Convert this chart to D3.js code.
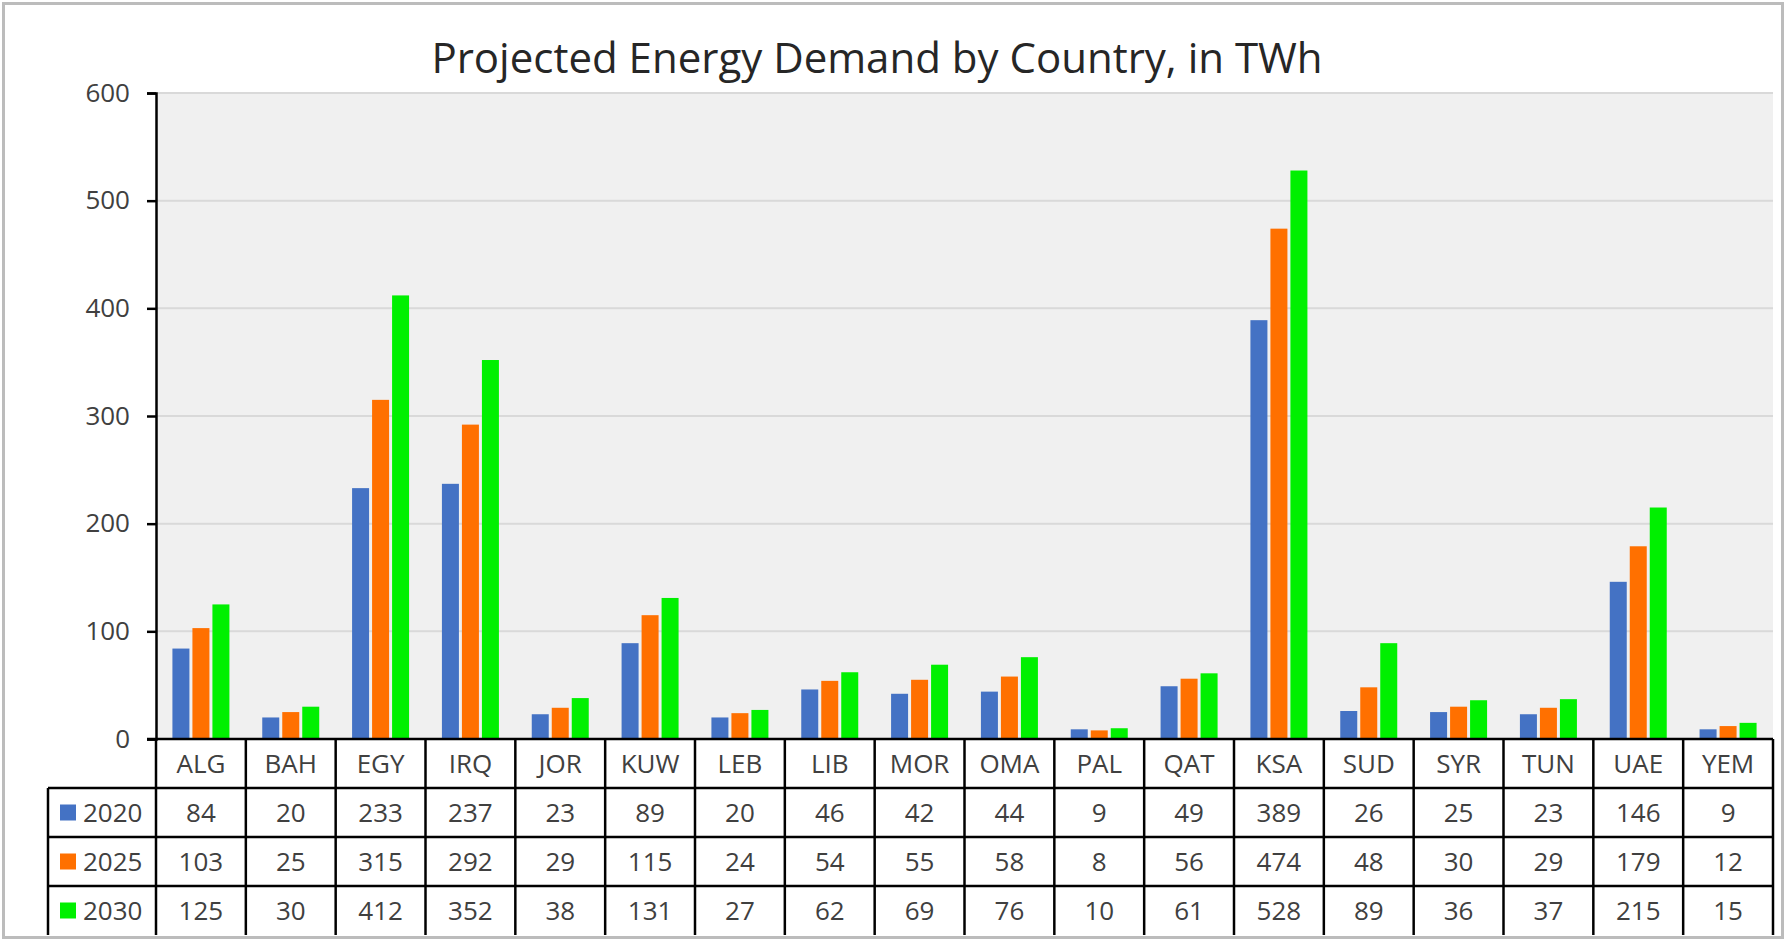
<!DOCTYPE html>
<html>
<head>
<meta charset="utf-8">
<script src="https://cdn.jsdelivr.net/npm/d3@7"></script>
<style>
	body { margin: 0; background: #fff; }
	text { font-family: "Open Sans", "Noto Sans", sans-serif; fill: #404040; }
</style>
</head>
<body>
<div id="chart"></div>
<script>
var categories = ["ALG", "BAH", "EGY", "IRQ", "JOR", "KUW", "LEB", "LIB", "MOR", "OMA", "PAL", "QAT", "KSA", "SUD", "SYR", "TUN", "UAE", "YEM"];
var years = ["2020", "2025", "2030"];
var values2020 = [84, 20, 233, 237, 23, 89, 20, 46, 42, 44, 9, 49, 389, 26, 25, 23, 146, 9];
var values2025 = [103, 25, 315, 292, 29, 115, 24, 54, 55, 58, 8, 56, 474, 48, 30, 29, 179, 12];
var values2030 = [125, 30, 412, 352, 38, 131, 27, 62, 69, 76, 10, 61, 528, 89, 36, 37, 215, 15];
var yTicks = [0, 100, 200, 300, 400, 500, 600];
var colors = ["#4472c4", "#ff7000", "#00f000"];

var series = [values2020, values2025, values2030];

var W = 1786, H = 939;
var margin = { top: 93, right: 13, bottom: 200, left: 156 };
var width = W - margin.left - margin.right;
var height = H - margin.top - margin.bottom;
var rowH = 49;
var tableLeft = 48;

var svg = d3.select("#chart").append("svg")
	.attr("width", W)
	.attr("height", H);

svg.append("rect").attr("width", W).attr("height", H).attr("fill", "#fff");

// Title
svg.append("text")
	.attr("x", 877)
	.attr("y", 73)
	.attr("text-anchor", "middle")
	.style("font-size", "42px")
	.style("fill", "#262626")
	.text("Projected Energy Demand by Country, in TWh");

var g = svg.append("g")
	.attr("transform", "translate(" + margin.left + "," + margin.top + ")");

var x0 = d3.scaleBand()
	.domain(categories)
	.range([0, width]);

var x1 = d3.scaleBand()
	.domain([0, 1, 2])
	.range([0, 57])
	.paddingInner(0.15);

var y = d3.scaleLinear()
	.domain([0, 600])
	.range([height, 0]);

// plot background
g.append("rect")
	.attr("width", width)
	.attr("height", height)
	.attr("fill", "#f0f0f0");

// grid
g.append("g")
	.selectAll("line")
	.data(yTicks.filter(function (d) { return d > 0; }))
	.enter().append("line")
	.attr("x1", 0)
	.attr("x2", width)
	.attr("y1", function (d) { return y(d); })
	.attr("y2", function (d) { return y(d); })
	.attr("stroke", "#d9d9d9")
	.attr("stroke-width", 2);

// bars
var groups = g.append("g")
	.selectAll("g")
	.data(categories)
	.enter().append("g")
	.attr("transform", function (d) {
		return "translate(" + (x0(d) + x0.bandwidth() / 2 - 28.5) + ",0)";
	});

groups.selectAll("rect")
	.data(function (d, i) {
		return series.map(function (s, k) { return { k: k, v: s[i] }; });
	})
	.enter().append("rect")
	.attr("x", function (d) { return x1(d.k); })
	.attr("y", function (d) { return y(d.v); })
	.attr("width", x1.bandwidth())
	.attr("height", function (d) { return height - y(d.v); })
	.attr("fill", function (d) { return colors[d.k]; });

// y axis
var yAxis = g.append("g")
	.call(d3.axisLeft(y).tickValues(yTicks).tickSize(9).tickPadding(17));
yAxis.select(".domain").attr("stroke", "#000").attr("stroke-width", 2.5);
yAxis.selectAll(".tick line").attr("stroke", "#000").attr("stroke-width", 2.5);
yAxis.selectAll(".tick text")
	.style("font-size", "26px")
	.style("font-family", "'Open Sans', sans-serif")
	.attr("fill", "#404040");

// Data table
var t = svg.append("g").attr("class", "table");
var tableTop = margin.top + height;
var tableBottom = tableTop + rowH * 4;
var right = margin.left + width;

// horizontal lines
t.selectAll(".hline")
	.data([0, 1, 2, 3])
	.enter().append("line")
	.attr("x1", function (d) { return d === 0 ? margin.left - 9 : tableLeft; })
	.attr("x2", right)
	.attr("y1", function (d) { return tableTop + d * rowH; })
	.attr("y2", function (d) { return tableTop + d * rowH; })
	.attr("stroke", "#000")
	.attr("stroke-width", 2.5);

// vertical lines
var vx = categories.map(function (c) { return margin.left + x0(c); }).concat([right]);
t.selectAll(".vline")
	.data(vx)
	.enter().append("line")
	.attr("x1", function (d) { return d; })
	.attr("x2", function (d) { return d; })
	.attr("y1", tableTop)
	.attr("y2", tableBottom)
	.attr("stroke", "#000")
	.attr("stroke-width", 2.5);

t.append("line")
	.attr("x1", tableLeft).attr("x2", tableLeft)
	.attr("y1", tableTop + rowH).attr("y2", tableBottom)
	.attr("stroke", "#000").attr("stroke-width", 2.5);

// category labels
t.selectAll(".cat")
	.data(categories)
	.enter().append("text")
	.attr("x", function (d) { return margin.left + x0(d) + x0.bandwidth() / 2; })
	.attr("y", tableTop + rowH / 2)
	.attr("dy", "0.36em")
	.attr("text-anchor", "middle")
	.style("font-size", "26px")
	.text(function (d) { return d; });

// rows
years.forEach(function (yr, k) {
	var cy = tableTop + rowH * (k + 1) + rowH / 2;
	t.append("rect")
		.attr("x", 60)
		.attr("y", cy - 8)
		.attr("width", 16)
		.attr("height", 16)
		.attr("fill", colors[k]);
	t.append("text")
		.attr("x", 83)
		.attr("y", cy)
		.attr("dy", "0.36em")
		.style("font-size", "26px")
		.text(yr);
	t.selectAll(".v" + k)
		.data(series[k])
		.enter().append("text")
		.attr("x", function (d, i) { return margin.left + x0(categories[i]) + x0.bandwidth() / 2; })
		.attr("y", cy)
		.attr("dy", "0.36em")
		.attr("text-anchor", "middle")
		.style("font-size", "26px")
		.text(function (d) { return d; });
});

// outer border
svg.append("rect")
	.attr("x", 3.5)
	.attr("y", 3.5)
	.attr("width", W - 7)
	.attr("height", H - 5)
	.attr("fill", "none")
	.attr("stroke", "#bcbcbc")
	.attr("stroke-width", 3);
</script>
</body>
</html>
